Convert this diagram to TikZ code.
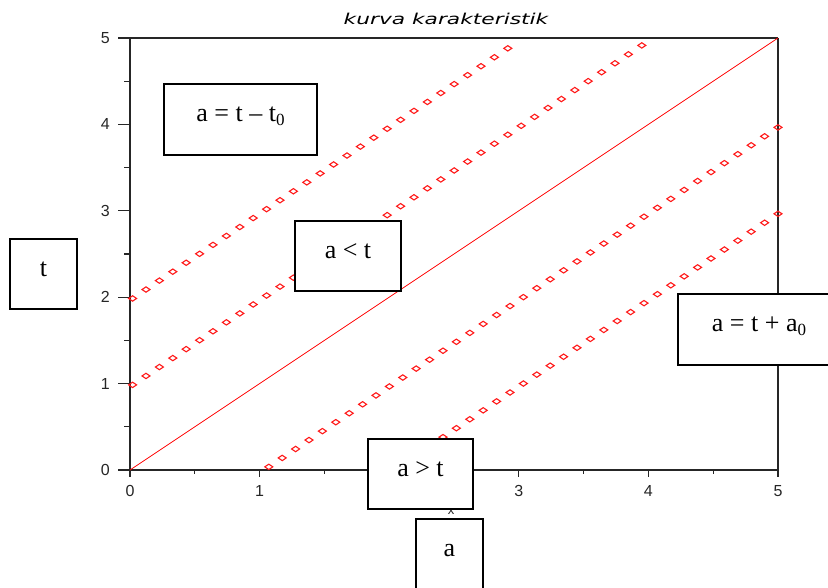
\documentclass[tikz,border=0pt]{standalone}
\usepackage{fontspec}
\setmainfont{Liberation Serif}
\newfontfamily\tickfont{Liberation Sans}
\newfontfamily\titlefont{DejaVu Sans}
\usepackage{graphicx}
\begin{document}
\begin{tikzpicture}[x=1pt,y=-1pt,
  frame/.style={line width=1.5pt, draw=black!85},
  tk/.style={line width=1.3pt, draw=black!85},
  ticklab/.style={font=\tickfont\fontsize{16}{16}\selectfont, text=black!85, inner sep=0pt},
  lbox/.style={draw=black, line width=1.7pt, fill=white, font=\fontsize{26}{26}\selectfont, text height=8pt, text depth=4pt, inner sep=0pt},
  dia/.style={draw=red!90!white, line width=1.1pt},
  curve/.style={draw=red, line width=0.8pt}]
\useasboundingbox[fill=white] (0,0) rectangle (828,587);
% title
\node (title) at (446,19) {\scalebox{1.45}[1]{\titlefont\itshape\fontsize{15}{15}\selectfont kurva karakteristik}};
% frame
\draw[frame] (118,38) -- (778,38);
\draw[frame] (118,470) -- (778,470);
\draw[frame] (130,38) -- (130,476);
\draw[frame] (778,38) -- (778,477);
% ticks and labels
\foreach \i in {0,...,5} {
  \pgfmathsetmacro\py{470-86.4*\i}
  \pgfmathsetmacro\px{130+129.6*\i}
  \draw[tk] (118,\py) -- (130,\py);
  \draw[tk] (\px,470) -- (\px,477);
  \node[ticklab, anchor=east] (yl\i) at (110,\py) {\i};
  \node[ticklab] (xl\i) at (\px,491) {\i};
}
\foreach \i in {0,...,4} {
  \pgfmathsetmacro\py{470-86.4*(\i+0.5)}
  \pgfmathsetmacro\px{130+129.6*(\i+0.5)}
  \draw[tk] (124,\py) -- (130,\py);
  \draw[tk] (\px,470) -- (\px,474);
}
\node[ticklab, font=\tickfont\fontsize{13}{13}\selectfont] (xlab) at (451,511) {x};
% data
\begin{scope}[shift={(130pt,-470pt)}, x=129.6pt, y=86.4pt]
  \draw[curve] (0,0) -- (5,5);
  \foreach \k in {0,...,28} {
    \pgfmathsetmacro\xx{0.02+\k*0.1034}
    \draw[dia] (\xx,{\xx+2}) ++(0,-3pt) +(-4pt,0) -- +(0,2.7pt) -- +(4pt,0) -- +(0,-2.7pt) -- cycle;
  }
  \foreach \k in {0,...,38} {
    \pgfmathsetmacro\xx{0.02+\k*0.1034}
    \draw[dia] (\xx,{\xx+1}) ++(0,-3pt) +(-4pt,0) -- +(0,2.7pt) -- +(4pt,0) -- +(0,-2.7pt) -- cycle;
  }
  \foreach \k in {0,...,38} {
    \pgfmathsetmacro\xx{5-\k*0.1034}
    \draw[dia] (\xx,{\xx-1}) ++(0,-3pt) +(-4pt,0) -- +(0,2.7pt) -- +(4pt,0) -- +(0,-2.7pt) -- cycle;
  }
  \foreach \k in {0,...,29} {
    \pgfmathsetmacro\xx{5-\k*0.1034}
    \draw[dia] (\xx,{\xx-2}) ++(0,-3pt) +(-4pt,0) -- +(0,2.7pt) -- +(4pt,0) -- +(0,-2.7pt) -- cycle;
  }
\end{scope}
% label boxes
\node[lbox, minimum width=153pt, minimum height=71pt] (eq1) at (240.5,119.5) {a = t – t\raisebox{-4pt}{\fontsize{17}{17}\selectfont 0}};
\node[lbox, minimum width=106pt, minimum height=70pt] (lt) at (348,256) {a < t};
\node[lbox, minimum width=67pt, minimum height=70pt] (tl) at (43.5,274) {t};
\node[lbox, minimum width=162pt, minimum height=71pt] (eq2) at (759,329.5) {a = t + a\raisebox{-4pt}{\fontsize{17}{17}\selectfont 0}};
\node[lbox, minimum width=105pt, minimum height=70pt] (gt) at (420.5,474) {a > t};
\node[lbox, minimum width=67pt, minimum height=70pt] (al) at (449.5,554) {a};
\end{tikzpicture}
\end{document}
